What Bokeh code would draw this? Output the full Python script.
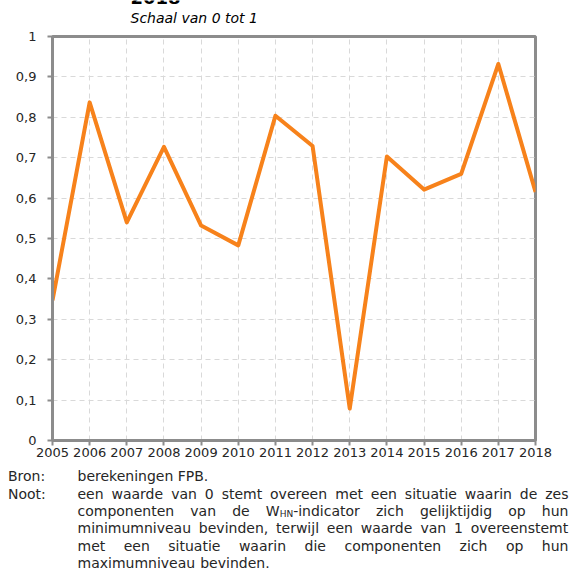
from bokeh.plotting import figure
from bokeh.layouts import column
from bokeh.models import Range1d, FixedTicker, CustomJSTickFormatter
from bokeh.core.properties import value
from bokeh.embed import file_html
from bokeh.resources import INLINE

# ---------------- data ----------------
years = [2005, 2006, 2007, 2008, 2009, 2010, 2011, 2012, 2013, 2014, 2015, 2016, 2017, 2018]
values = [0.347, 0.837, 0.540, 0.727, 0.532, 0.483, 0.804, 0.729, 0.079, 0.703, 0.621, 0.660, 0.932, 0.615]
y_ticks = [0.0, 0.1, 0.2, 0.3, 0.4, 0.5, 0.6, 0.7, 0.8, 0.9, 1.0]

title_text = "2018"
subtitle_text = "Schaal van 0 tot 1"
source_label = "Bron:"
source_text = "berekeningen FPB."
note_label = "Noot:"
# each line and whether it is justified; {..} marks small (subscript-like) letters
note_lines = [
    ("een waarde van 0 stemt overeen met een situatie waarin de zes", True),
    ("componenten van de W{HN}-indicator zich gelijktijdig op hun", True),
    ("minimumniveau bevinden, terwijl een waarde van 1 overeenstemt", True),
    ("met een situatie waarin die componenten zich op hun", True),
    ("maximumniveau bevinden.", False),
]

# ---------------- style / layout (page pixels) ----------------
W_PAGE, H_PAGE = 573, 576
TOP_H = 29                 # header strip: page 0..29
MAIN_BOTTOM = 466          # main chart: page 29..466, notes: 466..576
FRAME_L, FRAME_R, FRAME_T, FRAME_B = 52, 535, 36, 440
FONT = "DejaVu Sans"
GREY = "#8c8c8c"
ORANGE = "#f7821b"
TEXT = "#262626"
NOTE_SIZE = 14
SMALL_SIZE = 9
BASE_SHIFT = 0.4           # rendered text sits ~0.4 em lower than the given baseline


def text_canvas(y0, y1):
    """A bare figure whose data units equal page pixels between y0 and y1."""
    f = figure(width=W_PAGE, height=y1 - y0, output_backend="svg", toolbar_location=None,
               x_range=Range1d(0, W_PAGE), y_range=Range1d(y1, y0), title=None,
               min_border=0, x_axis_location=None, y_axis_location=None,
               frame_align=False)
    f.outline_line_color = None
    f.grid.visible = False
    f.background_fill_color = "white"
    f.border_fill_color = "white"
    return f


def base(y, size):
    return y - BASE_SHIFT * size


# ---------------- header ----------------
top = text_canvas(0, TOP_H)
top.text(x=[130], y=[base(4.5, 18)], text=[title_text], text_font=value(FONT),
         text_font_size="18px", text_font_style="bold", text_color="#000000",
         text_baseline="alphabetic")
top.text(x=[130], y=[base(23, 14)], text=[subtitle_text], text_font=value(FONT),
         text_font_size="14px", text_font_style="italic", text_color="#000000",
         text_baseline="alphabetic")

# ---------------- main chart ----------------
p = figure(width=W_PAGE, height=MAIN_BOTTOM - TOP_H, output_backend="svg", toolbar_location=None,
           x_range=Range1d(2005, 2018), y_range=Range1d(0, 1), title=None,
           min_border_left=FRAME_L, min_border_right=W_PAGE - FRAME_R,
           min_border_top=FRAME_T - TOP_H, min_border_bottom=MAIN_BOTTOM - FRAME_B,
           frame_align=False)
p.background_fill_color = "white"
p.border_fill_color = "white"
p.outline_line_color = GREY
p.outline_line_width = 3

for ax in (p.xaxis[0], p.yaxis[0]):
    ax.axis_line_color = GREY
    ax.axis_line_width = 3
    ax.major_tick_line_color = GREY
    ax.major_tick_line_width = 2
    ax.major_tick_in = 0
    ax.major_tick_out = 5
    ax.minor_tick_line_color = None
    ax.major_label_text_font = FONT
    ax.major_label_text_font_size = "13px"
    ax.major_label_text_color = TEXT

p.xaxis.ticker = FixedTicker(ticks=years)
p.xaxis.major_label_standoff = 2
p.yaxis.ticker = FixedTicker(ticks=y_ticks)
p.yaxis.major_label_standoff = 11
p.yaxis.formatter = CustomJSTickFormatter(code="""
    const s = (Math.round(tick * 10) / 10).toString();
    return s.replace('.', ',');
""")

p.xgrid.grid_line_color = "#d9d9d9"
p.xgrid.grid_line_dash = "5 4"
p.ygrid.grid_line_color = "#d9d9d9"
p.ygrid.grid_line_dash = "5 4"

p.line(years, values, line_color=ORANGE, line_width=4, line_join="round")

# ---------------- notes ----------------
notes = text_canvas(MAIN_BOTTOM, H_PAGE)

# approximate DejaVu Sans advance widths (em), used to justify lines
CW = {' ': .318, 'a': .613, 'b': .635, 'c': .550, 'd': .635, 'e': .615, 'f': .352, 'g': .635,
      'h': .634, 'i': .278, 'j': .278, 'k': .579, 'l': .278, 'm': .974, 'n': .634, 'o': .612,
      'p': .635, 'r': .411, 's': .521, 't': .392, 'u': .634, 'v': .592, 'w': .818, 'z': .525,
      'W': .989, 'H': .752, 'N': .748, '-': .361, ',': .318, '.': .318, 'B': .686, 'F': .575,
      'P': .603}


def tw(s, size):
    return sum(CW.get(c, .636) for c in s) * size


def pieces(word):
    out = []
    rest = word
    while rest:
        if rest.startswith("{"):
            j = rest.index("}")
            out.append((rest[1:j], True))
            rest = rest[j + 1:]
        else:
            j = rest.find("{")
            j = len(rest) if j < 0 else j
            out.append((rest[:j], False))
            rest = rest[j:]
    return out


X_LAB, X0, X1 = 7.5, 77, 568
LINE0 = 481.5
LEAD = 17.3

nx, ny, nt = [X_LAB, X0, X_LAB], [LINE0, LINE0, LINE0 + LEAD], [source_label, source_text, note_label]
sx, sy, st = [], [], []
for i, (line, justified) in enumerate(note_lines):
    y = LINE0 + LEAD * (i + 1)
    words = [pieces(w) for w in line.split(" ")]
    widths = [sum(tw(t, SMALL_SIZE if sm else NOTE_SIZE) for t, sm in w) for w in words]
    if justified and len(words) > 1:
        gap = (X1 - X0 - sum(widths)) / (len(words) - 1)
    else:
        gap = tw(" ", NOTE_SIZE)
    x = X0
    for w, wd in zip(words, widths):
        xx = x
        for t, sm in w:
            if sm:
                sx.append(xx); sy.append(y + 0.5); st.append(t)
                xx += tw(t, SMALL_SIZE)
            else:
                nx.append(xx); ny.append(y); nt.append(t)
                xx += tw(t, NOTE_SIZE)
        x += wd + gap

notes.text(x=nx, y=[base(v, NOTE_SIZE) for v in ny], text=nt, text_font=value(FONT),
           text_font_size=f"{NOTE_SIZE}px", text_color=TEXT, text_baseline="alphabetic")
notes.text(x=sx, y=[base(v, SMALL_SIZE) for v in sy], text=st, text_font=value(FONT),
           text_font_size=f"{SMALL_SIZE}px", text_color=TEXT, text_baseline="alphabetic")

layout = column(top, p, notes, spacing=0)
open("out.html", "w").write(file_html(layout, INLINE))
